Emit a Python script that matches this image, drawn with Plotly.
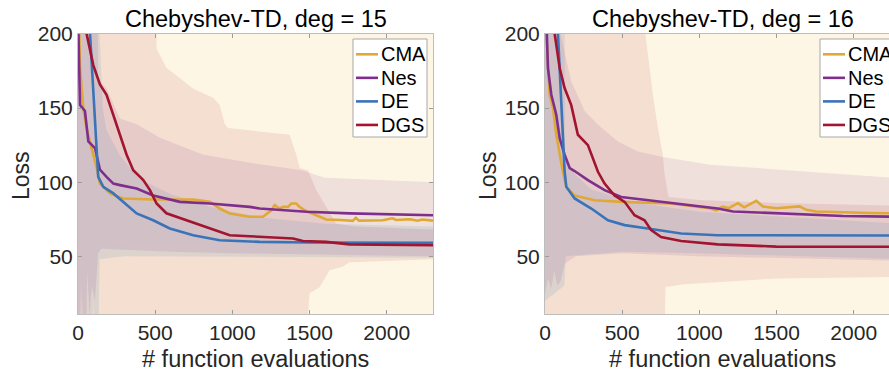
import plotly.graph_objects as go

# ---------------- data ----------------
titles = ["Chebyshev-TD, deg = 15", "Chebyshev-TD, deg = 16"]
methods = ["CMA", "Nes", "DE", "DGS"]
x_ticks = [0, 500, 1000, 1500, 2000]
y_ticks = [50, 100, 150, 200]
x_label = "# function evaluations"
y_label = "Loss"

# ---- deg = 15 : mean loss curves ----
cma15_x = [0, 13, 34, 56, 88, 120, 142, 207, 293, 487, 746, 854, 918, 983, 1112, 1198, 1253, 1274,
           1306, 1328, 1360, 1382, 1414, 1436, 1468, 1544, 1608, 1700, 1780, 1800, 1820, 1974, 2038,
           2060, 2150, 2200, 2230, 2300]
cma15_y = [240, 178, 150, 136, 123, 110, 99, 92.4, 89, 88.3, 88.3, 86.7, 82.2, 78.9, 76.6, 76.6, 81, 84.5,
           82.2, 83.3, 83.3, 85.6, 85.6, 83.3, 81, 77.7, 74.8, 74.5, 73.9, 76, 74, 74.3, 75.6,
           74.5, 75, 74, 74.8, 74]
nes15_x = [0, 13, 45, 67, 110, 142, 185, 229, 272, 380, 487, 660, 854, 1112, 1177, 1479, 1759, 2000, 2300]
nes15_y = [215, 152, 148, 127.5, 123, 108.5, 103.6, 99, 98, 95.7, 91, 86.7, 85.6, 83.3, 82.2, 80, 78.9, 78.5, 77.7]
de15_x = [0, 78, 131, 164, 229, 293, 380, 487, 595, 746, 918, 1177, 1500, 2300]
de15_y = [300, 200, 103.6, 96.8, 92.4, 86.7, 78.9, 74.3, 68.7, 64.2, 60.8, 59.7, 59.3, 59]
dgs15_x = [0, 56, 99, 142, 185, 229, 272, 315, 358, 423, 466, 509, 573, 703, 854, 983, 1112, 1393, 1457,
           1608, 1759, 2300]
dgs15_y = [300, 200, 179, 166, 159, 145.5, 132, 118.5, 108, 101.4, 94.6, 85.6, 79, 74.3, 68.7, 64.2, 63.5,
           62, 60.3, 59.7, 58, 57.4]

# ---- deg = 15 : spread bands (upper / lower envelopes) ----
cma15_hi_x = [0, 2300]
cma15_hi = [400, 400]
cma15_lo_x = [0, 2300]
cma15_lo = [-50, -50]
nes15_hi_x = [0, 115, 130, 185, 272, 380, 530, 811, 1177, 1450, 1600, 2300]
nes15_hi = [400, 400, 170, 163, 143, 139, 130, 118.5, 112, 108, 103, 100]
nes15_lo_x = [0, 30, 45, 60, 75, 90, 110, 130, 150, 300, 600, 1000, 1500, 2300]
nes15_lo = [-50, 20, -50, 40, 10, 30, 20, 52, 55, 54, 53, 52, 51, 50]
de15_hi_x = [0, 125, 140, 160, 185, 272, 400, 600, 900, 1200, 1600, 2300]
de15_hi = [400, 400, 200, 150, 135, 118, 102, 92, 82, 76, 72, 70]
de15_lo_x = [0, 20, 40, 60, 80, 100, 125, 140, 300, 800, 1500, 2300]
de15_lo = [-50, 30, -50, 10, -50, 20, -50, 48, 50, 50, 49.5, 49]
dgs15_hi_x = [0, 498, 509, 573, 638, 746, 875, 918, 951, 972, 1371, 1414, 1436, 1490, 1544, 1608, 1673,
              1800, 2300]
dgs15_hi = [400, 400, 190, 177, 172, 163, 157, 152, 139, 136.5, 132, 118.5, 109.5, 108, 94.6, 83.3, 72,
            70, 68]
dgs15_lo_x = [0, 1447, 1500, 1565, 1630, 1716, 1759, 2300]
dgs15_lo = [-50, -50, 25, 29, 40.5, 43, 46, 48]

# ---- deg = 16 : mean loss curves ----
cma16_x = [0, 9, 30, 52, 73, 95, 116, 138, 192, 321, 494, 817, 1003, 1067, 1110, 1150, 1190, 1250, 1290,
           1330, 1369, 1412, 1499, 1649, 1693, 1757, 1930, 2000, 2100, 2300]
cma16_y = [240, 200, 159, 150, 132, 118.5, 107, 96.8, 91, 87.8, 86.7, 85.6, 83.3, 82.4, 81, 83.5, 82.5,
           85.8, 83, 85.5, 87.4, 83.6, 82.4, 83.6, 81.3, 80.2, 79.5, 79.3, 79.2, 78.9]
nes16_x = [0, 9, 19, 41, 73, 95, 127, 160, 192, 278, 386, 494, 666, 925, 1119, 1218, 1499, 1714, 1930, 2300]
nes16_y = [240, 200, 177, 159, 145.5, 129.7, 118.5, 109.5, 107.5, 101.4, 94.6, 90, 87.8, 84.5, 82.2, 80.2,
           79, 78, 77.2, 76.6]
de16_x = [0, 84, 127, 138, 192, 300, 408, 516, 666, 882, 1119, 1500, 2300]
de16_y = [300, 200, 107.5, 96.8, 89, 82.2, 74.3, 71, 68.7, 65.3, 64.2, 64.1, 64]
dgs16_x = [0, 63, 95, 127, 170, 213, 278, 343, 386, 451, 516, 580, 645, 688, 752, 882, 1119, 1499, 2300]
dgs16_y = [300, 200, 177, 163.5, 152, 132, 125, 107, 99, 91, 86.7, 77.7, 74.3, 67.6, 63, 60.3, 58, 56.5, 56.4]

# ---- deg = 16 : spread bands ----
cma16_hi_x = [0, 2300]
cma16_hi = [400, 400]
cma16_lo_x = [0, 2300]
cma16_lo = [-50, -50]
nes16_hi_x = [0, 90, 100, 170, 257, 343, 472, 602, 763, 1067, 2300]
nes16_hi = [400, 400, 200, 168, 148, 138.7, 127.5, 120.7, 117, 111.7, 102.7]
nes16_lo_x = [0, 20, 40, 60, 80, 100, 127, 200, 500, 1000, 2300]
nes16_lo = [25, 35, 28, 40, 30, 33, 45, 50, 52, 50, 47]
de16_hi_x = [0, 120, 130, 200, 300, 600, 1000, 2300]
de16_hi = [400, 400, 115, 105, 95, 86, 80, 72]
de16_lo_x = [0, 60, 125, 135, 500, 1000, 2300]
de16_lo = [20, 25, 30, 50, 53, 52, 48]
dgs16_hi_x = [0, 640, 650, 699, 731, 763, 774, 800, 1000, 1500, 2300]
dgs16_hi = [400, 400, 200, 159, 136.5, 118.5, 106, 90, 88, 86, 84]
dgs16_lo_x = [0, 770, 780, 900, 1119, 1500, 2300]
dgs16_lo = [-50, -50, 29.3, 31, 32.6, 35, 36]

# ---------------- style / geometry ----------------
line_colors = {"CMA": "#E0A834", "Nes": "#7E2F8E", "DE": "#3B73B8", "DGS": "#A2142F"}
band_colors = {"CMA": "rgba(237,177,32,0.12)", "Nes": "rgba(126,47,142,0.11)",
               "DE": "rgba(0,114,189,0.10)", "DGS": "rgba(162,20,47,0.10)"}
FONT = "Liberation Sans, Arial, Helvetica, sans-serif"

W, H = 889, 373
# pixel geometry of the plot areas
P_LEFT, P_TOP, P_BOTTOM = 78, 34, 314
P1_RIGHT, P2_LEFT = 433, 545
ML, MR, MT = P_LEFT, 0, P_TOP
MB = H - P_BOTTOM
PW, PH = W - ML - MR, H - MT - MB
X_MAX = 2300
PANEL_PX = P1_RIGHT - P_LEFT  # nominal pixel width of a full panel


def fx(p):  # pixel x -> paper fraction
    return (p - ML) / PW


def fy(p):  # pixel y -> paper fraction
    return (H - MB - p) / PH


panels = [
    dict(xa="x", ya="y",
         curves={"CMA": (cma15_x, cma15_y), "Nes": (nes15_x, nes15_y),
                 "DE": (de15_x, de15_y), "DGS": (dgs15_x, dgs15_y)},
         bands={"CMA": (cma15_hi_x, cma15_hi, cma15_lo_x, cma15_lo),
                "Nes": (nes15_hi_x, nes15_hi, nes15_lo_x, nes15_lo),
                "DE": (de15_hi_x, de15_hi, de15_lo_x, de15_lo),
                "DGS": (dgs15_hi_x, dgs15_hi, dgs15_lo_x, dgs15_lo)}),
    dict(xa="x2", ya="y2",
         curves={"CMA": (cma16_x, cma16_y), "Nes": (nes16_x, nes16_y),
                 "DE": (de16_x, de16_y), "DGS": (dgs16_x, dgs16_y)},
         bands={"CMA": (cma16_hi_x, cma16_hi, cma16_lo_x, cma16_lo),
                "Nes": (nes16_hi_x, nes16_hi, nes16_lo_x, nes16_lo),
                "DE": (de16_hi_x, de16_hi, de16_lo_x, de16_lo),
                "DGS": (dgs16_hi_x, dgs16_hi, dgs16_lo_x, dgs16_lo)}),
]

fig = go.Figure()
for p in panels:
    for m in methods:
        hx, hy, lx_, ly_ = p["bands"][m]
        fig.add_trace(go.Scatter(x=list(hx) + list(lx_)[::-1], y=list(hy) + list(ly_)[::-1],
                                 fill="toself", fillcolor=band_colors[m], mode="lines",
                                 line=dict(width=0), hoverinfo="skip", showlegend=False,
                                 xaxis=p["xa"], yaxis=p["ya"]))
    for m in methods:
        cx, cy = p["curves"][m]
        fig.add_trace(go.Scatter(x=cx, y=cy, mode="lines", name=m,
                                 line=dict(color=line_colors[m], width=2.6),
                                 showlegend=False, xaxis=p["xa"], yaxis=p["ya"]))

axis_common = dict(showline=True, linecolor="#BDBDBD", linewidth=1, ticks="inside", ticklen=4,
                   tickcolor="#9C9C9C", showgrid=False, zeroline=False,
                   tickfont=dict(family=FONT, size=21, color="#262626"))
fig.update_layout(
    width=W, height=H, margin=dict(l=ML, r=MR, t=MT, b=MB, autoexpand=False),
    paper_bgcolor="white", plot_bgcolor="white", showlegend=False, hovermode=False,
    xaxis=dict(domain=[0, fx(P1_RIGHT)], range=[0, X_MAX], tickvals=x_ticks, mirror="ticks", **axis_common),
    yaxis=dict(domain=[0, 1], range=[11, 200], tickvals=y_ticks, mirror="ticks", **axis_common),
    xaxis2=dict(domain=[fx(P2_LEFT), 1], range=[0, X_MAX * (W - P2_LEFT) / PANEL_PX], tickvals=x_ticks,
                mirror="ticks", anchor="y2", **axis_common),
    yaxis2=dict(domain=[0, 1], range=[11, 200], tickvals=y_ticks, mirror=False, anchor="x2", **axis_common),
)

annotations = []
shapes = []
loss_px = [21, 488]


def lx(off):
    return X_MAX * off / PANEL_PX


for i, p in enumerate(panels):
    xa = p["xa"]
    annotations.append(dict(text=titles[i], xref=xa, yref="paper", x=X_MAX / 2, y=1, yanchor="bottom",
                            xanchor="center", showarrow=False, font=dict(family=FONT, size=23.5, color="#000")))
    annotations.append(dict(text=x_label, xref=xa, yref="paper", x=X_MAX / 2, y=fy(358.7), yanchor="middle",
                            xanchor="center", showarrow=False, font=dict(family=FONT, size=23.5, color="#262626")))
    annotations.append(dict(text=y_label, xref="paper", yref="paper", x=fx(loss_px[i]), y=fy(176), textangle=-90,
                            xanchor="center", yanchor="middle", showarrow=False,
                            font=dict(family=FONT, size=23, color="#262626")))
    # legend box
    shapes.append(dict(type="rect", xref=xa, yref="paper", x0=lx(275), x1=lx(349), y0=fy(137), y1=fy(39),
                       line=dict(color="#A8A8A8", width=1), fillcolor="white", layer="above"))
    for k, m in enumerate(methods):
        ypix = 54.3 + k * 23.55
        shapes.append(dict(type="line", xref=xa, yref="paper", x0=lx(278), x1=lx(300), y0=fy(ypix), y1=fy(ypix),
                           line=dict(color=line_colors[m], width=2.6), layer="above"))
        annotations.append(dict(text=m, xref=xa, yref="paper", x=lx(300.5), y=fy(ypix), xanchor="left",
                                yanchor="middle", showarrow=False,
                                font=dict(family=FONT, size=20, color="#000")))

fig.update_layout(annotations=annotations, shapes=shapes)
fig.write_html("out.html", config={"displayModeBar": False, "staticPlot": True},
               post_script="document.body.style.margin='0';document.body.style.overflow='hidden';")
